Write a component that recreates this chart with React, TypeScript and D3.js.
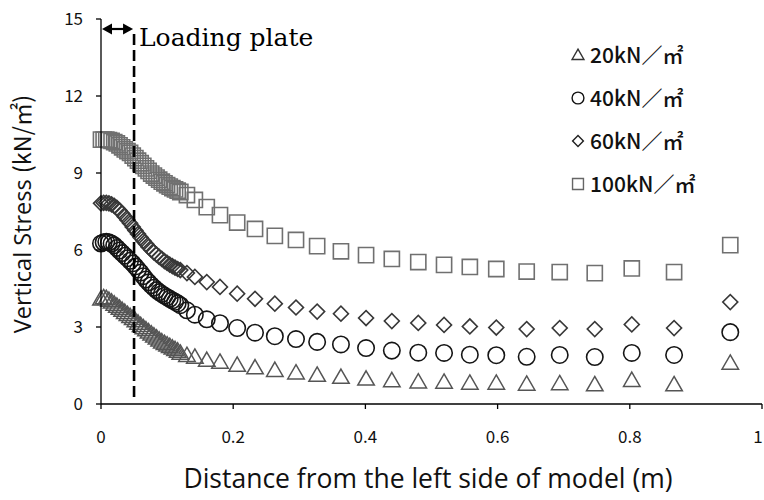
import React from "react";
import * as d3 from "d3";

// Measurement positions along the model (m)
const distances = [
  0, 0.004, 0.008, 0.012, 0.016, 0.02, 0.024, 0.028, 0.032, 0.036, 0.04, 0.044, 0.048, 0.052,
  0.056, 0.06, 0.064, 0.068, 0.072, 0.076, 0.08, 0.084, 0.088, 0.092, 0.096, 0.1, 0.104, 0.108,
  0.112, 0.116, 0.12, 0.13, 0.142, 0.16, 0.18, 0.206, 0.233, 0.263, 0.295, 0.327, 0.363, 0.401,
  0.44, 0.48, 0.519, 0.558, 0.598, 0.644, 0.694, 0.747, 0.803, 0.867, 0.952,
];

// Vertical stress (kN/m2) for each applied load
const stress20 = [
  4.1, 4.15, 4.12, 4.05, 3.98, 3.9, 3.82, 3.74, 3.66, 3.58, 3.5, 3.42, 3.34, 3.25, 3.16, 3.07,
  2.98, 2.9, 2.82, 2.74, 2.66, 2.58, 2.5, 2.43, 2.37, 2.31, 2.25, 2.19, 2.13, 2.07, 1.99, 1.9,
  1.83, 1.71, 1.64, 1.52, 1.42, 1.32, 1.22, 1.13, 1.05, 0.98, 0.92, 0.87, 0.86, 0.82, 0.82, 0.78,
  0.8, 0.76, 0.93, 0.76, 1.6,
];
const stress40 = [
  6.25, 6.3, 6.32, 6.3, 6.25, 6.18, 6.08, 5.98, 5.88, 5.78, 5.68, 5.58, 5.48, 5.36, 5.24, 5.12,
  4.98, 4.85, 4.74, 4.63, 4.53, 4.44, 4.36, 4.29, 4.22, 4.16, 4.1, 4.04, 3.98, 3.92, 3.85, 3.65,
  3.48, 3.3, 3.15, 2.96, 2.78, 2.64, 2.53, 2.42, 2.32, 2.18, 2.08, 2.0, 1.99, 1.92, 1.9, 1.84,
  1.91, 1.83, 1.99, 1.91, 2.8,
];
const stress60 = [
  7.82, 7.84, 7.84, 7.82, 7.78, 7.72, 7.64, 7.54, 7.42, 7.3, 7.17, 7.04, 6.9, 6.76, 6.62, 6.49,
  6.36, 6.24, 6.12, 6.01, 5.91, 5.82, 5.73, 5.65, 5.57, 5.5, 5.43, 5.37, 5.31, 5.26, 5.22, 5.1,
  4.95, 4.75, 4.56, 4.3, 4.1, 3.91, 3.76, 3.6, 3.52, 3.35, 3.23, 3.16, 3.08, 3.02, 2.98, 2.92,
  2.96, 2.92, 3.1, 2.96, 3.97,
];
const stress100 = [
  10.3, 10.3, 10.3, 10.28, 10.25, 10.2, 10.15, 10.08, 10.0, 9.92, 9.85, 9.78, 9.68, 9.58, 9.48,
  9.38, 9.28, 9.18, 9.08, 8.98, 8.9, 8.82, 8.74, 8.66, 8.6, 8.53, 8.47, 8.41, 8.36, 8.31, 8.26,
  8.14, 7.95, 7.67, 7.36, 7.07, 6.82, 6.55, 6.39, 6.15, 5.95, 5.8, 5.65, 5.53, 5.42, 5.34, 5.26,
  5.16, 5.14, 5.1, 5.28, 5.14, 6.19,
];

const seriesLabels = ["20kN／㎡", "40kN／㎡", "60kN／㎡", "100kN／㎡"];
const xTicks = [0, 0.2, 0.4, 0.6, 0.8, 1];
const xTickLabels = ["0", "0.2", "0.4", "0.6", "0.8", "1"];
const yTicks = [0, 3, 6, 9, 12, 15];
const plateEdge = 0.05;

const W = 764;
const H = 500;
const left = 101;
const right = 762;
const top = 19;
const bottom = 404;

const x = d3.scaleLinear().domain([0, 1]).range([left, right]);
const y = d3.scaleLinear().domain([0, 15]).range([bottom, top]);

type Shape = "triangle" | "circle" | "diamond" | "square";

const shapePath = (shape: Shape, scale = 1) => {
  const sym =
    shape === "triangle"
      ? d3.symbolTriangle
      : shape === "circle"
      ? d3.symbolCircle
      : d3.symbolSquare;
  const size =
    shape === "triangle" ? 118 : shape === "circle" ? 212 : shape === "diamond" ? 112 : 230;
  return d3.symbol().type(sym).size(size * scale * scale)() as string;
};

const series = [
  { values: stress100, shape: "square" as Shape, color: "#707070", width: 1.6 },
  { values: stress60, shape: "diamond" as Shape, color: "#383838", width: 1.6 },
  { values: stress40, shape: "circle" as Shape, color: "#151515", width: 1.6 },
  { values: stress20, shape: "triangle" as Shape, color: "#555555", width: 1.5 },
];

const legendShapes: Shape[] = ["triangle", "circle", "diamond", "square"];
const legendColors = ["#333", "#111", "#222", "#666"];

function Marker({ shape, cx, cy, color, width, scale = 1 }: any) {
  const rot = shape === "diamond" ? ` rotate(45)` : "";
  const dy = shape === "triangle" ? 1.5 * scale : 0;
  return (
    <path
      d={shapePath(shape, scale)}
      transform={`translate(${cx},${cy + dy})${rot}`}
      fill="none"
      stroke={color}
      strokeWidth={width}
    />
  );
}

export default function App() {
  const cjk = "'Noto Sans CJK JP', 'Noto Sans', sans-serif";
  return (
    <svg
      width={W}
      height={H}
      style={{ position: "absolute", left: 0, top: 0, background: "#fff" }}
    >
      <rect width={W} height={H} fill="#fff" />

      {/* markers */}
      {series.map((s, si) => (
        <g key={si}>
          {distances.map((d, i) => (
            <Marker
              key={i}
              shape={s.shape}
              cx={x(d)}
              cy={y(s.values[i])}
              color={s.color}
              width={s.width}
            />
          ))}
        </g>
      ))}

      {/* axes */}
      <line x1={left} x2={left} y1={top} y2={bottom} stroke="#000" strokeWidth={1.3} />
      <line x1={left} x2={right} y1={bottom} y2={bottom} stroke="#000" strokeWidth={1.3} />
      {yTicks.map((t) => (
        <g key={t}>
          <line x1={left - 5} x2={left} y1={y(t)} y2={y(t)} stroke="#000" strokeWidth={1.3} />
          <text
            x={83}
            y={y(t)}
            dy="0.36em"
            textAnchor="end"
            fontFamily={cjk}
            fontSize={17}
            fill="#111"
          >
            {t}
          </text>
        </g>
      ))}
      {xTicks.map((t, i) => (
        <g key={t}>
          <line x1={x(t)} x2={x(t)} y1={bottom} y2={bottom + 5} stroke="#000" strokeWidth={1.3} />
          <text
            x={Math.min(x(t), W - 6)}
            y={443}
            textAnchor="middle"
            fontFamily={cjk}
            fontSize={17}
            fill="#111"
          >
            {xTickLabels[i]}
          </text>
        </g>
      ))}

      {/* loading plate marker */}
      <line
        x1={x(plateEdge)}
        x2={x(plateEdge)}
        y1={34}
        y2={398}
        stroke="#000"
        strokeWidth={2.6}
        strokeDasharray="11 5"
      />
      <line x1={x(0) + 8} x2={x(plateEdge) - 8} y1={29} y2={29} stroke="#000" strokeWidth={2.2} />
      <path d={`M${x(0) + 1},29 L${x(0) + 11},23.5 L${x(0) + 11},34.5 Z`} fill="#000" />
      <path
        d={`M${x(plateEdge) - 1},29 L${x(plateEdge) - 11},23.5 L${x(plateEdge) - 11},34.5 Z`}
        fill="#000"
      />
      <text x={139} y={46} fontFamily="'DejaVu Serif', serif" fontSize={25} fill="#000">
        Loading plate
      </text>

      {/* legend */}
      {seriesLabels.map((lab, i) => (
        <g key={lab}>
          <Marker
            shape={legendShapes[i]}
            cx={578}
            cy={55 + i * 43}
            color={legendColors[i]}
            width={1.4}
            scale={0.72}
          />
          <text
            x={590}
            y={55 + i * 43}
            dy="0.36em"
            fontFamily={cjk}
            fontSize={21}
            fontWeight={500}
            fill="#111"
          >
            {lab}
          </text>
        </g>
      ))}

      {/* axis titles */}
      <text
        transform={`translate(31,214) rotate(-90)`}
        textAnchor="middle"
        fontSize={23.5}
        fill="#111"
      >
        <tspan fontFamily="'Open Sans', sans-serif">Vertical Stress </tspan>
        <tspan fontFamily={cjk}>(kN/㎡)</tspan>
      </text>
      <text
        x={428}
        y={488}
        textAnchor="middle"
        fontFamily="'Open Sans', sans-serif"
        fontSize={26.5}
        fill="#111"
      >
        Distance from the left side of model (m)
      </text>
    </svg>
  );
}
